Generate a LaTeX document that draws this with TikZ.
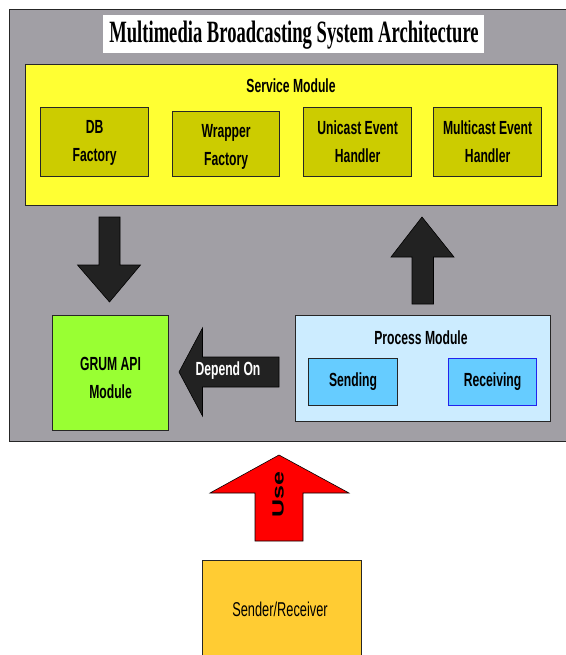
\documentclass[tikz,border=0pt]{standalone}
\usepackage{fontspec}
\usepackage{graphicx}
\newfontfamily\labelfont[FakeStretch=0.64]{Liberation Sans}
\newfontfamily\titlefont[FakeStretch=0.6]{Liberation Serif}
\definecolor{panelgray}{HTML}{A19FA5}
\definecolor{svcyellow}{HTML}{FFFF33}
\definecolor{olive}{HTML}{CCCC00}
\definecolor{grumgreen}{HTML}{99FF33}
\definecolor{procblue}{HTML}{CCECFF}
\definecolor{subblue}{HTML}{66CCFF}
\definecolor{recvborder}{HTML}{2222EE}
\definecolor{userorange}{HTML}{FFCC33}
\definecolor{arrowdark}{HTML}{222222}
\tikzset{
  box/.style={draw=black!85, line width=1.2pt, anchor=north west, inner sep=0pt},
  lbl/.style={font=\labelfont\bfseries\fontsize{19}{28}\selectfont, align=center, inner sep=0pt},
  blockarrow/.style={fill=arrowdark, draw=black, line width=0.6pt},
}
\begin{document}
\begin{tikzpicture}[x=1pt, y=-1pt]
\useasboundingbox (0,0) rectangle (565,655);
\fill[white] (0,0) rectangle (565,655);

% outer panel
\node[box, fill=panelgray, minimum width=558pt, minimum height=432pt] (panel) at (9,9) {};

% title banner
\node[fill=white, anchor=north west, minimum width=381pt, minimum height=38pt, inner sep=0pt] (titlebox) at (103,15) {};
\node[font=\titlefont\bfseries\fontsize{31}{33}\selectfont, inner sep=0pt] (title) at (294,35) {Multimedia Broadcasting System Architecture};

% service module
\node[box, fill=svcyellow, minimum width=532pt, minimum height=141pt] (service) at (25,64) {};
\node[lbl] (servicelbl) at (291,86) {Service Module};
\node[box, fill=olive, minimum width=108pt, minimum height=69pt] (db) at (40,107) {};
\node[box, fill=olive, minimum width=107pt, minimum height=65pt] (wrap) at (172,111) {};
\node[box, fill=olive, minimum width=108pt, minimum height=69pt] (uni) at (303,107) {};
\node[box, fill=olive, minimum width=108pt, minimum height=69pt] (multi) at (433,107) {};
\node[lbl] at ([yshift=-1pt]db.center) {DB\\Factory};
\node[lbl] at ([yshift=-3pt]wrap.center) {Wrapper\\Factory};
\node[lbl] at ([yshift=0pt]uni.center) {Unicast Event\\Handler};
\node[lbl] at ([yshift=0pt]multi.center) {Multicast Event\\Handler};

% GRUM API module
\node[box, fill=grumgreen, minimum width=116pt, minimum height=115pt] (grum) at (52,315) {};
\node[lbl] at ([yshift=-5pt]grum.center) {GRUM API\\Module};

% process module
\node[box, fill=procblue, minimum width=255pt, minimum height=106pt] (proc) at (295,315) {};
\node[lbl] (proclbl) at (421,338) {Process Module};
\node[box, fill=subblue, minimum width=89pt, minimum height=47pt] (send) at (308,358) {};
\node[box, fill=subblue, draw=recvborder, minimum width=88pt, minimum height=47pt] (recv) at (448,358) {};
\node[lbl] at (send.center) {Sending};
\node[lbl] at (recv.center) {Receiving};

% sender / receiver
\node[box, fill=userorange, minimum width=159pt, minimum height=110pt] (user) at (202,560) {};
\node[font=\labelfont\fontsize{20}{22}\selectfont, inner sep=0pt] at (280,609) {Sender/Receiver};

% block arrows
\path[blockarrow] (99,217) -- (120,217) -- (120,265) -- (140.5,265) -- (109.5,302)
  -- (77.5,265) -- (99,265) -- cycle;
\path[blockarrow] (412,304) -- (433.5,304) -- (433.5,257) -- (454,257) -- (422,217)
  -- (391,257) -- (412,257) -- cycle;
\path[blockarrow] (279,357) -- (279,387) -- (202.5,387) -- (202.5,416) -- (179,372)
  -- (202.5,328) -- (202.5,357) -- cycle;
\node[lbl, text=white] (dep) at (228,371) {Depend On};
\path[fill=red, draw=black, line width=0.6pt] (255,541) -- (303,541) -- (303,493) -- (349,493)
  -- (279,455) -- (210,493) -- (255,493) -- cycle;
\node[inner sep=0pt] (use) at (278,495) {\scalebox{0.65}[1]{\rotatebox{90}{\fontspec{Liberation Sans}\bfseries\fontsize{25}{25}\selectfont Use}}};
\end{tikzpicture}
\end{document}
